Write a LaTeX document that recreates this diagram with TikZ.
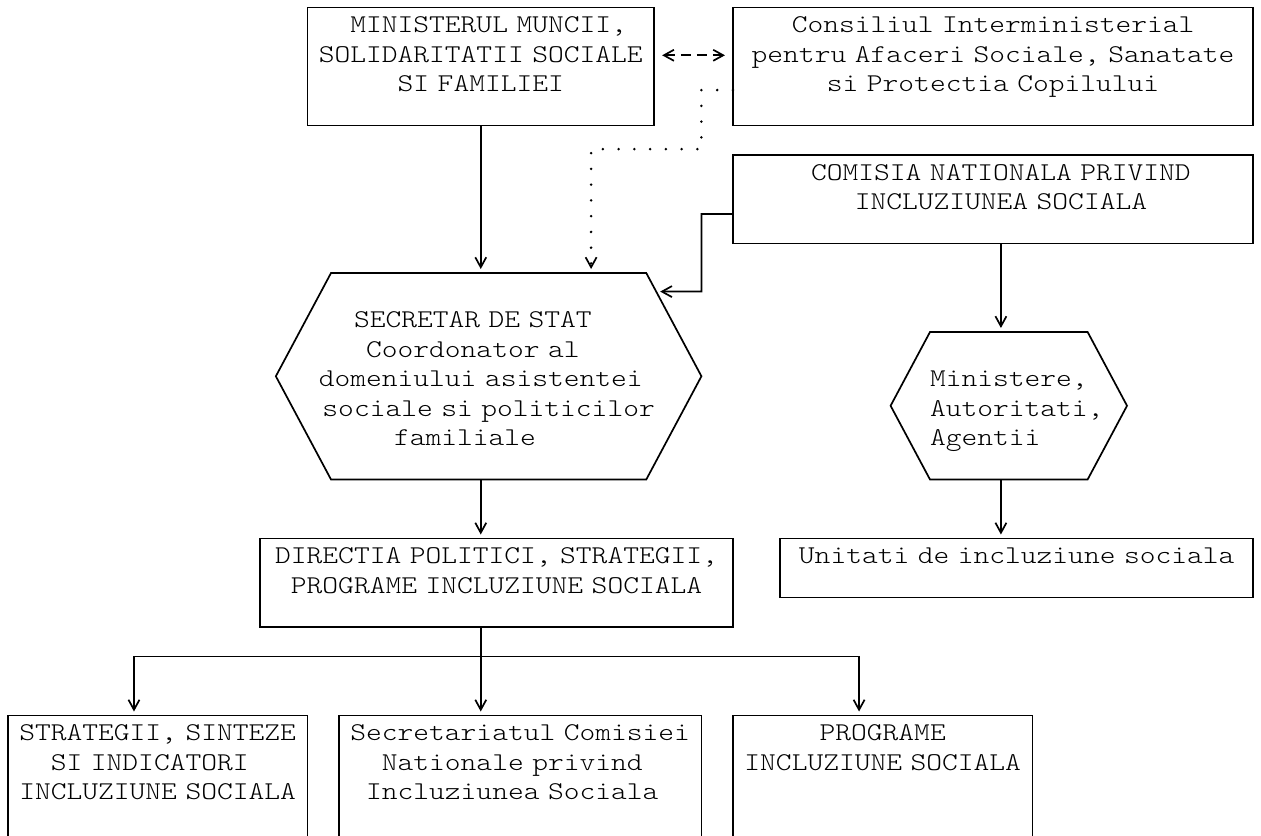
\documentclass[tikz,border=0pt]{standalone}
\usepackage{fontspec}
\newfontfamily\chartfont[FakeStretch=1.1728]{lmmonolt10-regular.otf}
\usetikzlibrary{arrows.meta,calc}

\newcommand{\cw}{7.88125pt}
\newcommand{\chartsize}{\fontsize{12.8pt}{14.75pt}\chartfont\frenchspacing
  \lineskiplimit=-20pt}
\newcommand{\rs}{\rule[-2.25pt]{0pt}{14.75pt}}
\newcommand{\pch}{\leavevmode\hbox to 7.88125pt{}}
\newcommand{\hexa}[5]{%
  \draw (#2,#4) coordinate (#1-nw) -- (#3,#4) coordinate (#1-ne)
    -- ({#3+(#5-#4)/2},{(#4+#5)/2}) coordinate (#1-e)
    -- (#3,#5) coordinate (#1-se) -- (#2,#5) coordinate (#1-sw)
    -- ({#2-(#5-#4)/2},{(#4+#5)/2}) coordinate (#1-w) -- cycle;}

\tikzset{
  vtip/.tip={Straight Barb[length=5pt,width=5.5pt,line width=0.85pt]},
  box/.style={draw, anchor=north west, outer sep=0pt, inner ysep=0pt,
    inner xsep=\cw/2-1pt, text width=#1*\cw+2pt, align=center,
    execute at begin node=\rs},
  hextext/.style={outer sep=0pt, inner sep=0pt, text width=#1*\cw+2pt,
    execute at begin node=\rs},
  arr/.style={-vtip, shorten >=2pt},
  dots/.style={arr, line width=1.4pt, line cap=round, dash pattern=on 0pt off \cw},
  biarr/.style={vtip-vtip, dash pattern=on 5pt off 3pt, shorten <=4pt, shorten >=4pt}
}

\begin{document}
\begin{tikzpicture}[x=7.88125pt, y=-14.75pt, line width=0.85pt, font=\chartsize]
\useasboundingbox (-0.5,-0.2542) rectangle (79.5,28.0508);

\node[box=21] (min) at (19,0) {\pch MINISTERUL MUNCII,\\SOLIDARITATII SOCIALE\\SI FAMILIEI\\ \rs};
\node[box=32] (cons) at (46,0) {Consiliul Interministerial\\pentru Afaceri Sociale, Sanatate\\si Protectia Copilului\\ \rs};
\node[box=32] (comi) at (46,5) {\pch COMISIA NATIONALA PRIVIND\\ \pch INCLUZIUNEA SOCIALA\\ \rs};

\hexa{sec}{20.5}{40.5}{9}{16}
\node[hextext=26, align=center] (sec) at (30.5,12.5) {\rs\\ SECRETAR DE STAT\pch\pch\\Coordonator al\pch\pch\\domeniului asistentei\pch\\sociale si politicilor\\familiale\pch\pch\pch\\ \rs};
\hexa{mini}{58.5}{68.5}{11}{16}
\node[hextext=11, align=left, anchor=north west] (mini) at (58.5,11) {\rs\\Ministere,\\Autoritati,\\Agentii\\ \rs};

\node[box=29] (dir) at (16,18) {DIRECTIA POLITICI, STRATEGII,\\PROGRAME INCLUZIUNE SOCIALA\\ \rs};
\node[box=29] (unit) at (49,18) {Unitati de incluziune sociala\\ \rs};

\node[box=18] (strat) at (0,24) {STRATEGII, SINTEZE\\SI INDICATORI\pch\\INCLUZIUNE SOCIALA\\ \rs\\ \rs};
\node[box=22] (secr) at (21,24) {Secretariatul Comisiei\\Nationale privind\pch\\Incluziunea Sociala\pch\\ \rs\\ \rs};
\node[box=18] (prog) at (46,24) {PROGRAME\\INCLUZIUNE SOCIALA\\ \rs\\ \rs\\ \rs};

\draw[biarr] (min.east |- 0,1.62) -- (cons.west |- 0,1.62);
\draw[arr] (min.south) -- (min.south |- sec-nw);
\draw[dots] (cons.west |- 0,2.8) -| (44,4.8) -| (sec-nw -| 37,0);
\draw[arr] (comi.west |- 0,7) -| (44,9.63) -- ($(sec-ne)!0.18!(sec-e)$);
\draw[arr] (comi.south -| 63,0) -- (mini-nw -| 63,0);
\draw[arr] (mini-sw -| 63,0) -- (unit.north -| 63,0);
\draw[arr] (sec-sw -| 30,0) -- (dir.north -| 30,0);

\coordinate (fork) at (30,22);
\draw (dir.south -| fork) -- (fork);
\draw[arr] (fork) -| (strat.north -| 8,0);
\draw[arr] (fork) -- (secr.north -| fork);
\draw[arr] (fork) -| (prog.north -| 54,0);
\end{tikzpicture}
\end{document}
